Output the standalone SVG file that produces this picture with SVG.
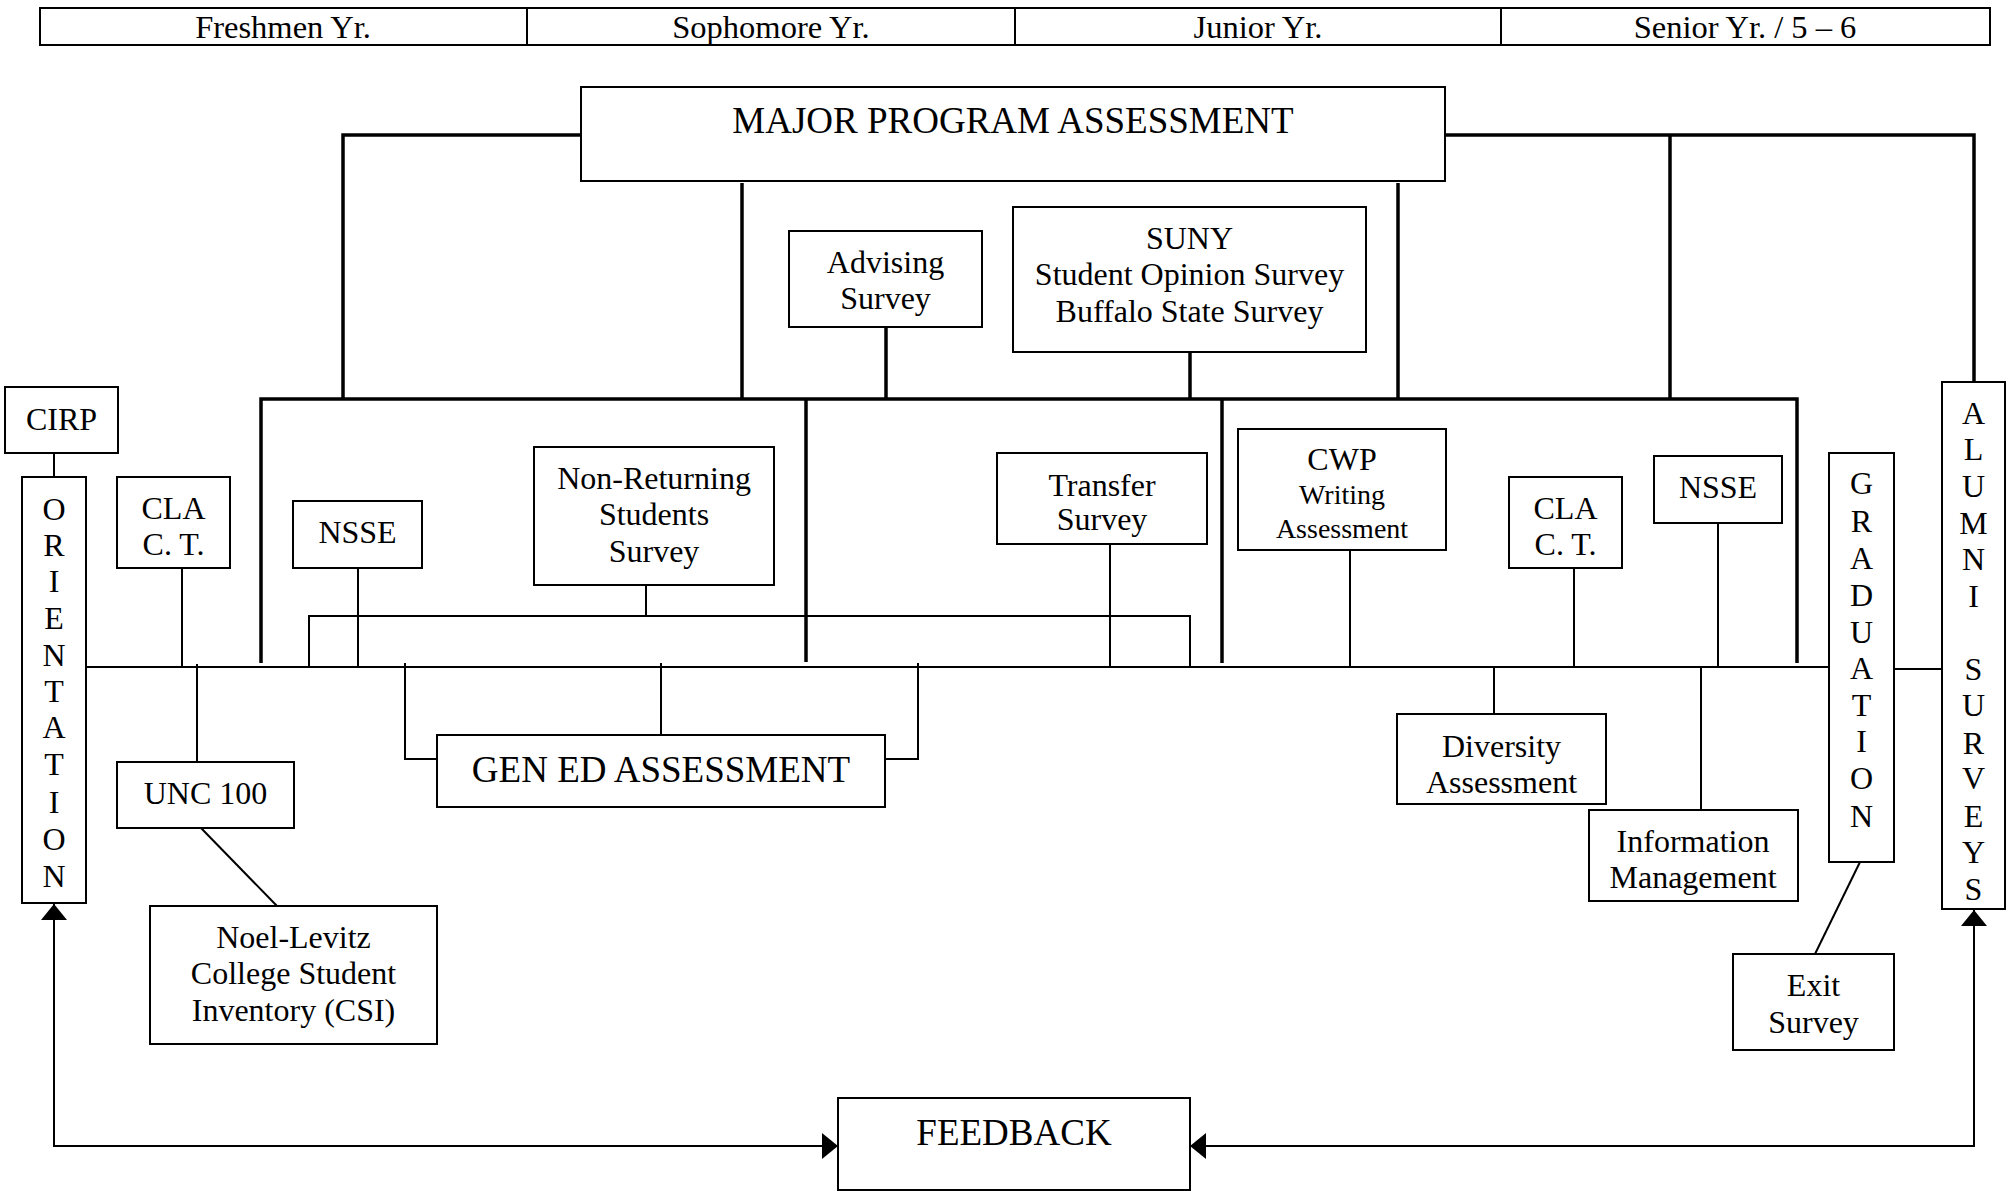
<svg xmlns="http://www.w3.org/2000/svg" width="2011" height="1191" viewBox="0 0 2011 1191">
<style>
text{font-family:"Liberation Serif","Times New Roman",serif;fill:#000;text-anchor:middle}
.t{font-size:32px}
.s{font-size:28px}
.b{font-size:37px}
.h{font-size:32.5px}
.box{fill:#fff;stroke:#000;stroke-width:2}
.thin{fill:none;stroke:#000;stroke-width:2}
.thick{fill:none;stroke:#000;stroke-width:3.5}
</style>
<defs>
<marker id="ar" viewBox="0 0 16 26" refX="16" refY="13" markerWidth="16" markerHeight="26" markerUnits="userSpaceOnUse" orient="auto-start-reverse">
<path d="M0 0L16 13L0 26z" fill="#000"/>
</marker>
</defs>
<g id="header">
<rect x="40" y="8" width="1950" height="37" fill="#fff" stroke="#000" stroke-width="2"/>
<line x1="527" y1="8" x2="527" y2="45" stroke="#000" stroke-width="2"/>
<line x1="1015" y1="8" x2="1015" y2="45" stroke="#000" stroke-width="2"/>
<line x1="1501" y1="8" x2="1501" y2="45" stroke="#000" stroke-width="2"/>
<text class="h" x="283" y="38">Freshmen Yr.</text>
<text class="h" x="771" y="38">Sophomore Yr.</text>
<text class="h" x="1258" y="38">Junior Yr.</text>
<text class="h" x="1745" y="38">Senior Yr. / 5 – 6</text>
</g>
<g id="connectors">
<path class="thick" d="M581 135H343V399"/>
<path class="thick" d="M1445 135H1974V382"/>
<path class="thick" d="M1670 135V399"/>
<path class="thick" d="M742 183V399"/>
<path class="thick" d="M1398 183V399"/>
<path class="thick" d="M261 663V399H1797V663"/>
<path class="thick" d="M806 399V662"/>
<path class="thick" d="M1222 399V663"/>
<path class="thick" d="M886 327V399"/>
<path class="thick" d="M1190 352V399"/>
<line class="thin" x1="54" y1="453" x2="54" y2="477"/>
<path class="thin" d="M86 667H1829"/>
<path class="thin" d="M1894 669H1942"/>
<path class="thin" d="M182 568V667"/>
<path class="thin" d="M197 664V762"/>
<path class="thin" d="M201 828L277 906"/>
<path class="thin" d="M358 568V667"/>
<path class="thin" d="M309 667V616H1190V667"/>
<path class="thin" d="M646 585V616"/>
<path class="thin" d="M1110 544V667"/>
<path class="thin" d="M405 663V759H437"/>
<path class="thin" d="M661 663V735"/>
<path class="thin" d="M918 663V759H885"/>
<path class="thin" d="M1350 550V667"/>
<path class="thin" d="M1574 568V667"/>
<path class="thin" d="M1718 523V667"/>
<path class="thin" d="M1494 667V714"/>
<path class="thin" d="M1701 667V810"/>
<path class="thin" d="M1860 862L1815 954"/>
<path class="thin" d="M54 904V1146H838" marker-start="url(#ar)" marker-end="url(#ar)"/>
<path class="thin" d="M1974 910V1146H1190" marker-start="url(#ar)" marker-end="url(#ar)"/>
</g>
<g id="major">
<rect class="box" x="581" y="87" width="864" height="94"/>
<text class="b" x="1013" y="133">MAJOR PROGRAM ASSESSMENT</text>
</g>
<g id="advising">
<rect class="box" x="789" y="231" width="193" height="96"/>
<text class="t" x="885.5" y="273">Advising</text>
<text class="t" x="885.5" y="309">Survey</text>
</g>
<g id="suny">
<rect class="box" x="1013" y="207" width="353" height="145"/>
<text class="t" x="1189.5" y="249">SUNY</text>
<text class="t" x="1189.5" y="285">Student Opinion Survey</text>
<text class="t" x="1189.5" y="322">Buffalo State Survey</text>
</g>
<g id="cirp">
<rect class="box" x="5" y="387" width="113" height="66"/>
<text class="t" x="61.5" y="430">CIRP</text>
</g>
<g id="orientation">
<rect class="box" x="22" y="477" width="64" height="426"/>
<text class="t" x="54" y="520">O</text>
<text class="t" x="54" y="556">R</text>
<text class="t" x="54" y="592">I</text>
<text class="t" x="54" y="629">E</text>
<text class="t" x="54" y="666">N</text>
<text class="t" x="54" y="702">T</text>
<text class="t" x="54" y="738">A</text>
<text class="t" x="54" y="775">T</text>
<text class="t" x="54" y="813">I</text>
<text class="t" x="54" y="850">O</text>
<text class="t" x="54" y="887">N</text>
</g>
<g id="cla-left">
<rect class="box" x="117" y="477" width="113" height="91"/>
<text class="t" x="173.5" y="519">CLA</text>
<text class="t" x="173.5" y="555">C. T.</text>
</g>
<g id="nsse-left">
<rect class="box" x="293" y="501" width="129" height="67"/>
<text class="t" x="357.5" y="543">NSSE</text>
</g>
<g id="nonreturning">
<rect class="box" x="534" y="447" width="240" height="138"/>
<text class="t" x="654" y="489">Non-Returning</text>
<text class="t" x="654" y="525">Students</text>
<text class="t" x="654" y="562">Survey</text>
</g>
<g id="transfer">
<rect class="box" x="997" y="453" width="210" height="91"/>
<text class="t" x="1102" y="496">Transfer</text>
<text class="t" x="1102" y="530">Survey</text>
</g>
<g id="cwp">
<rect class="box" x="1238" y="429" width="208" height="121"/>
<text class="t" x="1342" y="470">CWP</text>
<text class="s" x="1342" y="504">Writing</text>
<text class="s" x="1342" y="538">Assessment</text>
</g>
<g id="cla-right">
<rect class="box" x="1509" y="477" width="113" height="91"/>
<text class="t" x="1565.5" y="519">CLA</text>
<text class="t" x="1565.5" y="555">C. T.</text>
</g>
<g id="nsse-right">
<rect class="box" x="1654" y="456" width="128" height="67"/>
<text class="t" x="1718" y="498">NSSE</text>
</g>
<g id="graduation">
<rect class="box" x="1829" y="453" width="65" height="409"/>
<text class="t" x="1861.5" y="494">G</text>
<text class="t" x="1861.5" y="532">R</text>
<text class="t" x="1861.5" y="569">A</text>
<text class="t" x="1861.5" y="606">D</text>
<text class="t" x="1861.5" y="643">U</text>
<text class="t" x="1861.5" y="679">A</text>
<text class="t" x="1861.5" y="716">T</text>
<text class="t" x="1861.5" y="752">I</text>
<text class="t" x="1861.5" y="789">O</text>
<text class="t" x="1861.5" y="827">N</text>
</g>
<g id="alumni">
<rect class="box" x="1942" y="382" width="63" height="527"/>
<text class="t" x="1973.5" y="424">A</text>
<text class="t" x="1973.5" y="460">L</text>
<text class="t" x="1973.5" y="497">U</text>
<text class="t" x="1973.5" y="534">M</text>
<text class="t" x="1973.5" y="570">N</text>
<text class="t" x="1973.5" y="607">I</text>
<text class="t" x="1973.5" y="680">S</text>
<text class="t" x="1973.5" y="716">U</text>
<text class="t" x="1973.5" y="754">R</text>
<text class="t" x="1973.5" y="789">V</text>
<text class="t" x="1973.5" y="827">E</text>
<text class="t" x="1973.5" y="863">Y</text>
<text class="t" x="1973.5" y="900">S</text>
</g>
<g id="unc100">
<rect class="box" x="117" y="762" width="177" height="66"/>
<text class="t" x="205.5" y="804">UNC 100</text>
</g>
<g id="noel">
<rect class="box" x="150" y="906" width="287" height="138"/>
<text class="t" x="293.5" y="948">Noel-Levitz</text>
<text class="t" x="293.5" y="984">College Student</text>
<text class="t" x="293.5" y="1021">Inventory (CSI)</text>
</g>
<g id="gened">
<rect class="box" x="437" y="735" width="448" height="72"/>
<text class="b" x="661" y="782">GEN ED ASSESSMENT</text>
</g>
<g id="diversity">
<rect class="box" x="1397" y="714" width="209" height="90"/>
<text class="t" x="1501.5" y="757">Diversity</text>
<text class="t" x="1501.5" y="793">Assessment</text>
</g>
<g id="information">
<rect class="box" x="1589" y="810" width="209" height="91"/>
<text class="t" x="1693" y="852">Information</text>
<text class="t" x="1693" y="888">Management</text>
</g>
<g id="exit">
<rect class="box" x="1733" y="954" width="161" height="96"/>
<text class="t" x="1813.5" y="996">Exit</text>
<text class="t" x="1813.5" y="1033">Survey</text>
</g>
<g id="feedback">
<rect class="box" x="838" y="1098" width="352" height="92"/>
<text class="b" x="1014" y="1145">FEEDBACK</text>
</g>
</svg>
